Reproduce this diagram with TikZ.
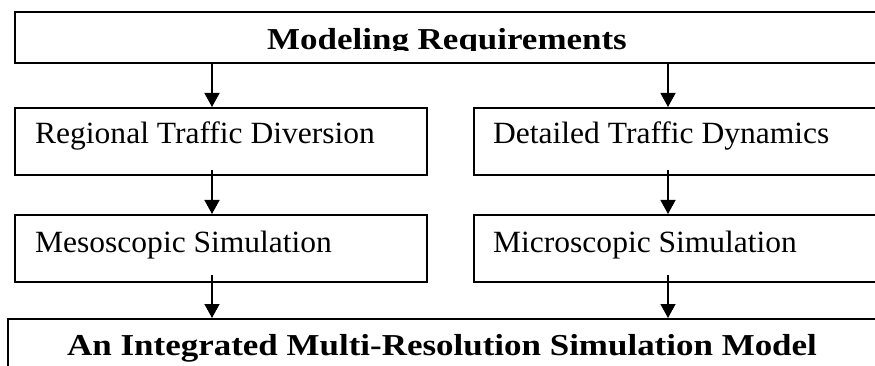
\documentclass[tikz,border=0pt]{standalone}
\usepackage{fontspec}
\setmainfont{Liberation Serif}[FakeStretch=1.02]
\newfontfamily\ttlfont{Liberation Serif}[FakeStretch=1.15]
\usetikzlibrary{arrows.meta}
\tikzset{
  box/.style={draw=black, line width=1.6pt, rectangle, inner sep=0pt, anchor=north west},
  txt/.style={inner sep=0pt, anchor=base west, font=\fontsize{30.9pt}{36pt}\selectfont},
  ttl/.style={inner sep=0pt, anchor=base west, font=\ttlfont\bfseries\fontsize{30.4pt}{36pt}\selectfont},
  arr/.style={line width=1.3pt, -{Triangle[width=15pt,length=14pt]}}
}
\begin{document}
\begin{tikzpicture}[x=1pt,y=-1pt]
\useasboundingbox (0,0) rectangle (875,366);
\clip (0,0) rectangle (875,366);
\fill[white] (0,0) rectangle (875,366);
% boxes
\node[box, minimum width=870pt, minimum height=51pt] (top) at (14,11) {};
\node[box, minimum width=412pt, minimum height=67pt] (rtd) at (14,107) {};
\node[box, minimum width=410pt, minimum height=67pt] (dtd) at (473,107) {};
\node[box, minimum width=412pt, minimum height=67pt] (meso) at (14,214) {};
\node[box, minimum width=410pt, minimum height=67pt] (micro) at (473,214) {};
\node[box, minimum width=880pt, minimum height=70pt] (imr) at (7,318) {};
% texts
\begin{scope}
\clip (0,0) rectangle (875,51);
\node[ttl] (ttltop) at (267,50) {Modeling Requirements};
\end{scope}
\node[txt] (trtd) at (35,144) {Regional Traffic Diversion};
\node[txt] (tdtd) at (493,144) {Detailed Traffic Dynamics};
\node[txt] (tmeso) at (35,252) {Mesoscopic Simulation};
\node[txt] (tmicro) at (493,252) {Microscopic Simulation};
\node[ttl] (timr) at (67,355) {An Integrated Multi-Resolution Simulation Model};
% arrow columns
\coordinate (la) at (212,0);
\coordinate (ra) at (668,0);
\draw[arr] (la |- top.south) -- (la |- rtd.north);
\draw[arr] (ra |- top.south) -- (ra |- dtd.north);
\draw[arr] ([yshift=6pt]la |- rtd.south) -- (la |- meso.north);
\draw[arr] ([yshift=6pt]ra |- dtd.south) -- (ra |- micro.north);
\draw[arr] ([yshift=8pt]la |- meso.south) -- (la |- imr.north);
\draw[arr] ([yshift=8pt]ra |- micro.south) -- (ra |- imr.north);
\end{tikzpicture}
\end{document}
